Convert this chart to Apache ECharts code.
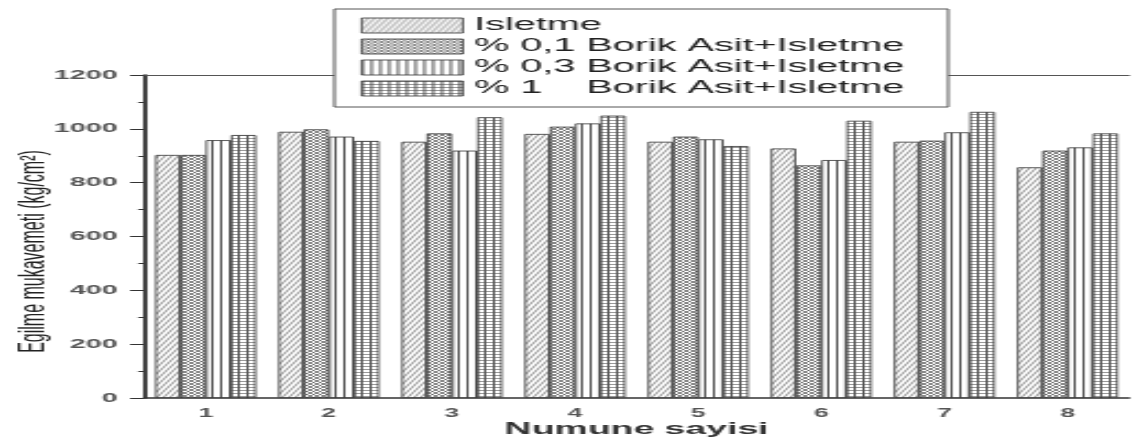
<!DOCTYPE html>
<html>
<head>
<meta charset="utf-8">
<script src="https://cdn.jsdelivr.net/npm/echarts@6/dist/echarts.min.js"></script>
<style>
  html, body { margin: 0; padding: 0; background: #fff; overflow: hidden; }
  /* the source figure is stretched horizontally, so draw narrow and stretch */
  #chart { width: 518px; height: 439px; transform: scaleX(2.2); transform-origin: 0 0; }
</style>
</head>
<body>
<div id="chart"></div>
<script>
const categories = ['1', '2', '3', '4', '5', '6', '7', '8'];
const seriesNames = [
  'Isletme',
  '% 0,1 Borik Asit+Isletme',
  '% 0,3 Borik Asit+Isletme',
  '% 1    Borik Asit+Isletme'
];
const isletme = [903, 989, 952, 981, 952, 927, 952, 857];
const borik01 = [903, 998, 983, 1008, 971, 864, 956, 919];
const borik03 = [958, 971, 919, 1020, 961, 884, 987, 931];
const borik1 = [977, 955, 1043, 1049, 936, 1030, 1063, 983];
const yMin = 0, yMax = 1200, yStep = 200;

// small canvas tiles for the hatch fills
function makePattern(w, h, draw) {
  const c = document.createElement('canvas');
  c.width = w;
  c.height = h;
  const ctx = c.getContext('2d');
  ctx.fillStyle = '#fff';
  ctx.fillRect(0, 0, w, h);
  draw(ctx, w, h);
  return { image: c, repeat: 'repeat' };
}

const diagonal = makePattern(3, 6, (ctx, w, h) => {
  ctx.strokeStyle = '#777';
  ctx.lineWidth = 0.8;
  ctx.beginPath();
  for (let k = -1; k <= 1; k++) {
    ctx.moveTo(k * w, h);
    ctx.lineTo(k * w + w, 0);
  }
  ctx.stroke();
});

const cross = makePattern(3, 3, (ctx, w, h) => {
  ctx.strokeStyle = '#555';
  ctx.lineWidth = 0.7;
  ctx.beginPath();
  for (let k = -1; k <= 1; k++) {
    ctx.moveTo(k * w, h);
    ctx.lineTo(k * w + w, 0);
    ctx.moveTo(k * w, 0);
    ctx.lineTo(k * w + w, h);
  }
  ctx.stroke();
});

const vertical = makePattern(4, 4, (ctx, w, h) => {
  ctx.fillStyle = '#555';
  ctx.fillRect(0, 0, 1, h);
});

const grid = makePattern(4, 3, (ctx, w, h) => {
  ctx.fillStyle = '#999';
  ctx.fillRect(0, 0, w, 1);
  ctx.fillStyle = '#555';
  ctx.fillRect(0, 0, 1, h);
});

const fills = [diagonal, cross, vertical, grid];
const values = [isletme, borik01, borik03, borik1];

const font = "'Liberation Sans', Arial, sans-serif";
const chart = echarts.init(document.getElementById('chart'));

chart.setOption({
  animation: false,
  backgroundColor: '#fff',
  grid: { left: 65.5, right: 4.8, top: 75, bottom: 41, outerBoundsMode: 'none' },
  legend: {
    data: seriesNames,
    orient: 'vertical',
    left: 152,
    top: 9,
    padding: [6, 20, 8, 12],
    itemGap: 0,
    itemWidth: 46,
    itemHeight: 15,
    icon: 'rect',
    backgroundColor: '#fff',
    borderColor: '#555',
    borderWidth: 1,
    itemStyle: { borderColor: '#333', borderWidth: 0.8 },
    textStyle: { fontFamily: font, fontSize: 18, color: '#222', lineHeight: 21 }
  },
  xAxis: [
    {
      type: 'category',
      position: 'bottom',
      data: categories,
      name: 'Numune sayisi',
      nameLocation: 'middle',
      nameGap: 23,
      nameMoveOverlap: false,
      nameTextStyle: { fontFamily: font, fontSize: 17, fontWeight: 'bold', color: '#333' },
      axisLine: { lineStyle: { color: '#333', width: 1.5 } },
      axisTick: { alignWithLabel: true, length: 7, lineStyle: { color: '#222', width: 1 } },
      axisLabel: { fontFamily: font, fontSize: 12, fontWeight: 'bold', color: '#555', margin: 10 }
    },
    {
      // small ticks between the groups
      type: 'category',
      position: 'bottom',
      data: categories,
      axisLine: { show: false },
      axisTick: { length: 3, lineStyle: { color: '#222', width: 1.5 } },
      axisLabel: { show: false }
    },
    {
      // frame line on top
      type: 'category',
      position: 'top',
      data: categories,
      axisLine: { lineStyle: { color: '#555', width: 1 } },
      axisTick: { show: false },
      axisLabel: { show: false }
    }
  ],
  yAxis: {
    type: 'value',
    min: yMin,
    max: yMax,
    interval: yStep,
    name: 'Egilme mukavemeti (kg/cm²)',
    nameLocation: 'middle',
    nameGap: 42,
    nameMoveOverlap: false,
    nameTextStyle: { fontFamily: font, fontSize: 16, color: '#222', padding: [0, 30, 0, 0] },
    axisLine: { show: true, lineStyle: { color: '#111', width: 1.6 } },
    axisTick: { show: true, length: 6.4, lineStyle: { color: '#333', width: 1 } },
    minorTick: { show: true, splitNumber: 2, length: 2.7, lineStyle: { color: '#333', width: 1 } },
    splitLine: { show: false },
    axisLabel: {
      fontFamily: font, fontSize: 13, fontWeight: 'bold', color: '#555', margin: 12,
      formatter: (v) => String(v)
    }
  },
  series: seriesNames.map((name, i) => ({
    type: 'bar',
    name: name,
    data: values[i],
    barGap: '0%',
    barCategoryGap: '18%',
    itemStyle: { color: fills[i], borderColor: '#333', borderWidth: 0.8 }
  }))
});
</script>
</body>
</html>
